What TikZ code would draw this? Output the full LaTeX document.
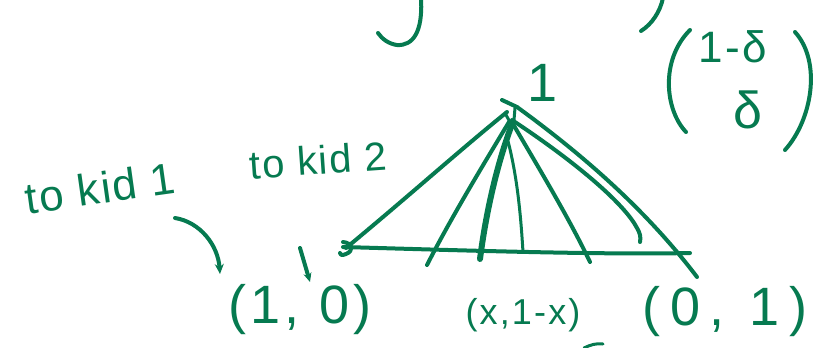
\documentclass[tikz,border=0pt]{standalone}
\usepackage{fontspec}
\usepackage{graphicx}
\setmainfont{Liberation Sans}
\usetikzlibrary{arrows.meta}
\definecolor{ink}{RGB}{6,122,80}
\begin{document}
\begin{tikzpicture}[x=1pt,y=-1pt,
  pen/.style={draw=ink,line width=4pt,line cap=round,line join=round},
  thickpen/.style={pen,line width=6pt},
  thinpen/.style={pen,line width=3pt},
  hand/.style={text=ink,inner sep=0pt,anchor=center}]
\useasboundingbox (0,0) rectangle (815,348);
\clip (0,0) rectangle (815,348);
% top fragments
\draw[pen] (421,-2) .. controls (423,32) and (413,46) .. (397,45) .. controls (389,44) and (382,39) .. (378,33);
\draw[pen] (663,-2) .. controls (660,12) and (652,24) .. (641,31);
% matrix
\draw[pen] (690,30) .. controls (660,60) and (665,110) .. (686,132);
\draw[pen] (795,32) .. controls (822,62) and (812,120) .. (785,150);
\node[hand,font=\fontsize{44}{44}\selectfont\addfontfeature{LetterSpace=6}] (top) at (733,47) {1-δ};
\node[hand,font=\fontsize{52}{52}\selectfont] (bot) at (748,110) {δ};
% apex label
\node[hand,font=\fontsize{54}{54}\selectfont] (one) at (543,83) {1};
% triangle
\coordinate (L) at (346,248);
\coordinate (A) at (507,112);
\coordinate (Rend) at (697,277);
\coordinate (Bend) at (690,253);
\draw[pen] (L) .. controls (410,195) and (460,150) .. (A);
\draw[pen] (343,247) .. controls (450,250) and (600,255) .. (Bend);
\draw[pen] (517,107) .. controls (590,160) and (650,215) .. (Rend);
\draw[pen] (502,100) -- (517,107);
\draw[thinpen] (515,108) -- (514,120);
\draw[thinpen] (505,113) -- (511,124);
% fan lines
\draw[pen] (509,122) .. controls (480,170) and (450,220) .. (427,265);
\draw[thickpen] (511,127) .. controls (495,170) and (485,220) .. (480,259);
\draw[thinpen] (508,141) .. controls (518,180) and (521,220) .. (523,252);
\draw[pen] (513,124) .. controls (540,170) and (570,220) .. (590,262);
\draw[pen] (512,120) .. controls (580,165) and (625,205) .. (637,228) .. controls (640,233) and (641,237) .. (640,242);
% left vertex mark
\draw[pen] (343,242) .. controls (353,243) and (354,251) .. (346,254) .. controls (343,255) and (341,256) .. (340,253);
% vertex labels
\node[hand,font=\fontsize{54}{54}\selectfont\addfontfeature{LetterSpace=8}] (p10) at (300,310) {(1, 0)};
\node[hand,font=\fontsize{36}{36}\selectfont\addfontfeature{LetterSpace=6}] (px) at (523,315) {(x,1-x)};
\node[hand,font=\fontsize{54}{54}\selectfont\addfontfeature{LetterSpace=18}] (p01) at (725,312) {(0, 1)};
% kid labels
\node[hand,rotate=8,font=\fontsize{44}{44}\selectfont\addfontfeature{LetterSpace=4}] (kid1) at (100,188) {to kid 1};
\node[hand,rotate=4,font=\fontsize{40}{40}\selectfont\addfontfeature{LetterSpace=4}] (kid2) at (318,160) {to kid 2};
% arrows
\draw[pen,-{Stealth[length=10pt,width=9pt]}] (175,218) .. controls (200,222) and (218,245) .. (220,274);
\draw[pen,-{Stealth[length=9pt,width=8pt]}] (300,248) -- (310,282);
% bottom fragment
\draw[thinpen] (584,348) .. controls (590,345) and (596,343) .. (603,344);
\end{tikzpicture}
\end{document}
